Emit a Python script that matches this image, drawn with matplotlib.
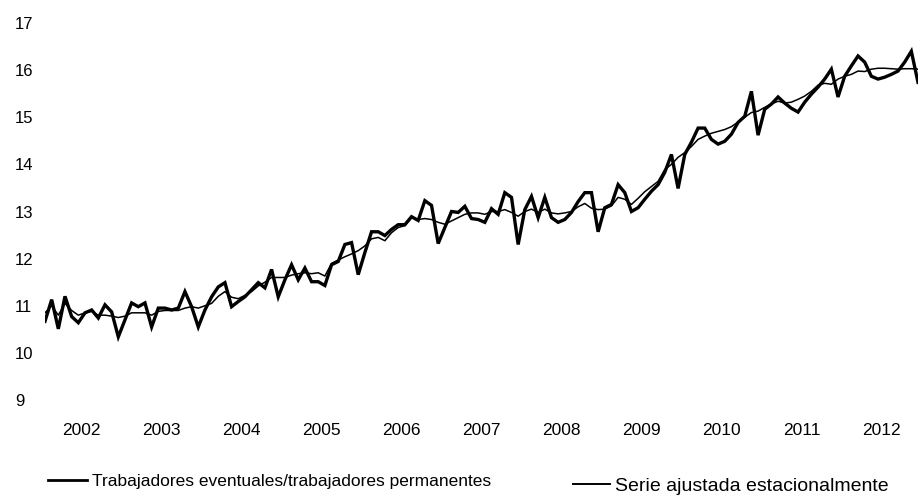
import numpy as np
import matplotlib
matplotlib.use("Agg")
import matplotlib.pyplot as plt
from matplotlib.lines import Line2D

plt.rcParams['font.family'] = ['Liberation Sans', 'DejaVu Sans']

# monthly values, Jan 2002 .. Dec 2012
eventuales = [
    10.67, 11.13, 10.51, 11.20, 10.77, 10.64, 10.85, 10.91, 10.74, 11.02, 10.87, 10.34,
    10.70, 11.06, 10.98, 11.06, 10.55, 10.95, 10.95, 10.91, 10.95, 11.30, 10.98, 10.55,
    10.91, 11.19, 11.40, 11.49, 10.98, 11.09, 11.19, 11.34, 11.49, 11.38, 11.77, 11.19,
    11.55, 11.87, 11.55, 11.80, 11.51, 11.51, 11.43, 11.87, 11.94, 12.30, 12.34, 11.66,
    12.13, 12.57, 12.57, 12.49, 12.62, 12.72, 12.72, 12.89, 12.81, 13.23, 13.13, 12.32,
    12.66, 13.00, 12.98, 13.11, 12.85, 12.83, 12.77, 13.06, 12.94, 13.40, 13.30, 12.30,
    13.04, 13.32, 12.87, 13.30, 12.87, 12.77, 12.83, 12.98, 13.21, 13.40, 13.40, 12.57,
    13.08, 13.15, 13.57, 13.40, 13.00, 13.08, 13.26, 13.43, 13.57, 13.83, 14.21, 13.49,
    14.21, 14.47, 14.77, 14.77, 14.53, 14.43, 14.49, 14.64, 14.89, 15.02, 15.55, 14.62,
    15.17, 15.28, 15.43, 15.30, 15.19, 15.11, 15.32, 15.49, 15.64, 15.81, 16.02, 15.43,
    15.87, 16.09, 16.30, 16.17, 15.87, 15.81, 15.85, 15.91, 15.98, 16.17, 16.40, 15.74,
]

ajustada = [
    10.85, 11.00, 10.80, 11.05, 10.90, 10.80, 10.85, 10.88, 10.80, 10.80, 10.78, 10.75,
    10.78, 10.85, 10.85, 10.85, 10.80, 10.88, 10.90, 10.90, 10.90, 10.95, 10.98, 10.95,
    11.00, 11.05, 11.20, 11.30, 11.18, 11.15, 11.22, 11.30, 11.42, 11.50, 11.60, 11.60,
    11.60, 11.65, 11.68, 11.70, 11.68, 11.70, 11.63, 11.90, 11.97, 12.04, 12.10, 12.17,
    12.27, 12.42, 12.45, 12.38, 12.55, 12.66, 12.70, 12.87, 12.83, 12.85, 12.83, 12.77,
    12.73, 12.80, 12.87, 12.94, 12.97, 12.97, 12.94, 13.00, 13.00, 13.04, 12.98, 12.90,
    13.00, 13.05, 12.98, 13.05, 12.97, 12.95, 12.97, 13.00, 13.10, 13.17, 13.07, 13.04,
    13.05, 13.12, 13.30, 13.26, 13.15, 13.28, 13.42, 13.53, 13.64, 13.89, 14.00, 14.15,
    14.25, 14.38, 14.53, 14.60, 14.66, 14.70, 14.74, 14.80, 14.90, 15.00, 15.10, 15.13,
    15.21, 15.28, 15.34, 15.30, 15.32, 15.38, 15.45, 15.55, 15.68, 15.72, 15.70, 15.81,
    15.87, 15.91, 15.98, 15.97, 16.02, 16.04, 16.04, 16.03, 16.02, 16.03, 16.03, 16.02,
]

years = [str(y) for y in range(2002, 2013)]
y_ticks = list(range(9, 18))

fig = plt.figure(figsize=(9.19, 5.01), dpi=100)
W, H = 919, 501
ax = fig.add_axes([45 / W, (H - 400) / H, (918 - 45) / W, (400 - 23) / H])

t = np.arange(len(eventuales))
ax.plot(t, eventuales, color='black', lw=2.4, solid_joinstyle='miter')
ax.plot(t, ajustada, color='black', lw=1.1)

ax.set_xlim(0, len(eventuales) - 1)
ax.set_ylim(9, 17)
for s in ax.spines.values():
    s.set_visible(False)

ax.set_xticks([5.5 + 12 * k for k in range(len(years))])
ax.set_xticklabels(years, fontsize=12.5)
ax.set_yticks(y_ticks)
ax.set_yticklabels([str(v) for v in y_ticks], fontsize=12)
ax.tick_params(axis='x', length=0, pad=16.5)
ax.tick_params(axis='y', length=0, pad=21.6)
for lab in ax.get_yticklabels():
    lab.set_horizontalalignment('left')

h1 = Line2D([], [], color='black', lw=2.0)
h2 = Line2D([], [], color='black', lw=1.4)
leg1 = fig.legend([h1], ['Trabajadores eventuales/trabajadores permanentes'],
                  loc='center left', bbox_to_anchor=(48 / W, (H - 481) / H),
                  frameon=False, fontsize=12.5, borderpad=0, borderaxespad=0,
                  handlelength=2.25, handletextpad=0.29)
leg2 = fig.legend([h2], ['Serie ajustada estacionalmente'],
                  loc='center left', bbox_to_anchor=(573 / W, (H - 486) / H),
                  frameon=False, fontsize=14, borderpad=0, borderaxespad=0,
                  handlelength=1.9, handletextpad=0.26)

fig.savefig('out.png', dpi=100)
